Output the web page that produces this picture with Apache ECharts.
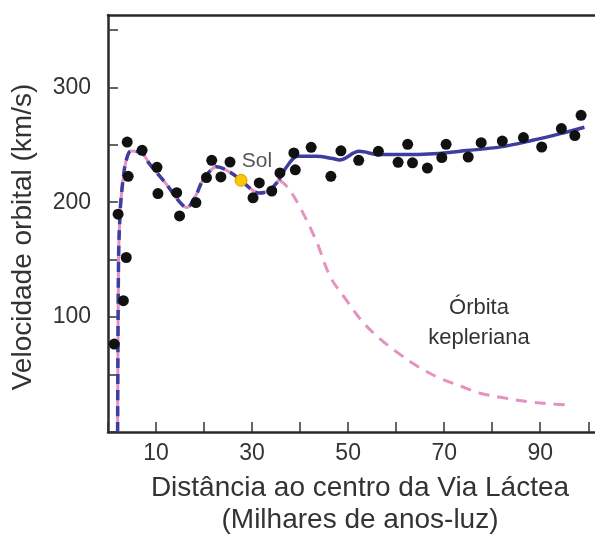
<!DOCTYPE html>
<html>
<head>
<meta charset="utf-8">
<script src="https://cdn.jsdelivr.net/npm/echarts@6/dist/echarts.min.js"></script>
<style>
html, body { margin: 0; padding: 0; background: #fff; }
#chart { width: 595px; height: 534px; }
</style>
</head>
<body>
<div id="chart"></div>
<script>
// pontos medidos: [distância (milhares de anos-luz), velocidade (km/s)]
var pontos = [
    [1.3, 76.5], [2.1, 189.6], [3.2, 114.3], [3.8, 151.9], [4.0, 252.4], [4.2, 222.6],
    [7.1, 245.2], [10.2, 230.4], [10.4, 207.6], [14.3, 208.3], [14.9, 188.1], [18.3, 199.7],
    [20.5, 221.5], [21.6, 236.5], [23.5, 222.0], [25.4, 235.0], [30.2, 203.9], [31.5, 216.8],
    [34.1, 209.8], [35.8, 225.5], [38.7, 242.9], [39.0, 228.2], [42.3, 247.8], [46.4, 222.6],
    [48.5, 244.8], [52.2, 236.5], [56.3, 244.3], [60.4, 234.8], [62.4, 250.4], [63.4, 234.3],
    [66.5, 229.8], [69.5, 238.9], [70.4, 250.4], [75.0, 239.4], [77.7, 251.9], [82.1, 253.3],
    [86.5, 256.3], [90.3, 248.1], [94.4, 264.1], [97.2, 258.0], [98.5, 275.7]
];
var sol = [[27.7, 219.1]];

// trecho comum das duas curvas (até ~36 mil anos-luz)
var curvaInterna = [
    [2.0, 0], [2.2, 151], [2.5, 190], [2.7, 202], [3.2, 222], [3.8, 236.5], [4.8, 244.6],
    [7.2, 242.3], [8.6, 233.6], [12.1, 216], [14.9, 200.3], [16.4, 195.4], [18.3, 206],
    [19.7, 219], [21.5, 228.4], [22.6, 231], [25.3, 226.4], [27.7, 219.1], [30.1, 210.4],
    [31.5, 208], [33.6, 210.4], [35.6, 219.5]
];
// curva observada (azul) depois do trecho comum
var curvaObservada = [
    [37.4, 232], [39.5, 240], [43.3, 240], [46.8, 238], [48.2, 236.8], [52.3, 244.3],
    [56.5, 241.5], [61.3, 241.5], [67.8, 242.3], [74.7, 245], [81.8, 248.2], [88.4, 253.9],
    [94.2, 259.7], [99.2, 265.3]
];
// órbita kepleriana (rosa tracejada)
var curvaKepler = [
    [37.4, 213], [39.8, 197], [43.3, 167], [46.3, 135], [49.6, 115], [53, 96], [56.5, 81.5],
    [60, 70], [64.5, 57], [69, 47], [73.8, 39.4], [77.3, 34], [82, 30], [87.7, 26.3],
    [92, 24.5], [96.7, 23.5]
];

var xTicks = [0, 10, 20, 30, 40, 50, 60, 70, 80, 90, 100];
var xLabels = [10, 30, 50, 70, 90];
var yTicks = [0, 50, 100, 150, 200, 250, 300, 350];
var yLabels = [100, 200, 300];

var ultimo = curvaInterna[curvaInterna.length - 1];
var rosa = '#e592c2';
var azul = '#3d3e9e';
var fonte = '"Liberation Sans", Arial, Helvetica, sans-serif';

var myChart = echarts.init(document.getElementById('chart'));
myChart.setOption({
    animation: false,
    grid: { left: 108, right: 0, top: 15, bottom: 102 },
    xAxis: [
        {
            type: 'value', min: 0, max: 101.4, interval: 10,
            axisLine: { lineStyle: { color: '#2a2a2a', width: 2.5 } },
            axisTick: { inside: true, length: 10, customValues: xTicks, lineStyle: { color: '#333', width: 1.5 } },
            axisLabel: {
                customValues: xLabels, margin: 10,
                color: '#333', fontSize: 23, fontFamily: fonte,
                formatter: function (v) { return xLabels.indexOf(v) >= 0 ? String(v) : ''; }
            },
            splitLine: { show: false }
        },
        {
            type: 'value', min: 0, max: 101.4, position: 'top',
            axisLine: { lineStyle: { color: '#2a2a2a', width: 2.5 } },
            axisTick: { show: false }, axisLabel: { show: false }, splitLine: { show: false }
        }
    ],
    yAxis: {
        type: 'value', min: 0, max: 363, interval: 50,
        axisLine: { lineStyle: { color: '#2a2a2a', width: 2.5 } },
        axisTick: { inside: true, length: 10, customValues: yTicks, lineStyle: { color: '#333', width: 1.5 } },
        axisLabel: {
            customValues: yLabels, margin: 17,
            color: '#333', fontSize: 23, fontFamily: fonte,
            formatter: function (v) { return yLabels.indexOf(v) >= 0 ? String(v) : ''; }
        },
        splitLine: { show: false }
    },
    graphic: [
        {
            type: 'text', x: 23, y: 237, rotation: Math.PI / 2,
            style: { text: 'Velocidade orbital (km/s)', fill: '#333', font: '28px ' + fonte, align: 'center', verticalAlign: 'middle' }
        },
        {
            type: 'text', x: 360, y: 488,
            style: { text: 'Distância ao centro da Via Láctea', fill: '#333', font: '28px ' + fonte, align: 'center', verticalAlign: 'middle' }
        },
        {
            type: 'text', x: 360, y: 520,
            style: { text: '(Milhares de anos-luz)', fill: '#333', font: '28px ' + fonte, align: 'center', verticalAlign: 'middle' }
        },
        {
            type: 'text', x: 479, y: 323,
            style: { text: 'Órbita\nkepleriana', fill: '#333', font: '22px ' + fonte, align: 'center', verticalAlign: 'middle', lineHeight: 30 }
        },
        {
            type: 'text', x: 257, y: 161,
            style: { text: 'Sol', fill: '#555', font: '21px ' + fonte, align: 'center', verticalAlign: 'middle' }
        }
    ],
    series: [
        {
            type: 'line', data: curvaInterna, smooth: 0.35, symbol: 'none', z: 1,
            lineStyle: { color: rosa, width: 3 }
        },
        {
            type: 'line', data: [ultimo].concat(curvaKepler), smooth: 0.35, symbol: 'none', z: 1,
            lineStyle: { color: rosa, width: 3, type: [11, 8] }
        },
        {
            type: 'line', data: curvaInterna, smooth: 0.35, symbol: 'none', z: 2,
            lineStyle: { color: azul, width: 3.5, type: [10, 6] }
        },
        {
            type: 'line', data: [ultimo].concat(curvaObservada), smooth: 0.35, symbol: 'none', z: 2,
            lineStyle: { color: azul, width: 3.5 }
        },
        {
            type: 'scatter', data: pontos, symbolSize: 11, z: 5,
            itemStyle: { color: '#111', opacity: 1 }
        },
        {
            type: 'scatter', data: sol, symbolSize: 12, z: 6,
            itemStyle: { color: '#f8c800', borderColor: '#e09a00', borderWidth: 1, opacity: 1 }
        }
    ]
});
</script>
</body>
</html>
